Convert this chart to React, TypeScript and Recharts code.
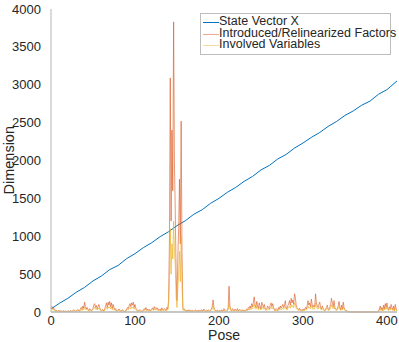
import { LineChart, Line, XAxis, YAxis } from 'recharts';

// pose index is the array index (0..412)
const factorsVals = [
  60, 75, 40, 55, 30, 20, 25, 15, 10, 20,
  15, 10, 20, 5, 10, 15, 8, 12, 10, 5,
  10, 15, 5, 20, 10, 8, 15, 30, 20, 10,
  15, 20, 35, 25, 10, 40, 60, 35, 80, 50,
  130, 70, 40, 60, 30, 20, 45, 25, 15, 30,
  50, 90, 110, 60, 85, 40, 70, 100, 55, 30,
  20, 35, 25, 15, 45, 80, 120, 60, 130, 90,
  140, 70, 120, 50, 100, 60, 30, 45, 20, 15,
  25, 40, 20, 10, 15, 30, 20, 8, 12, 20,
  35, 60, 45, 80, 110, 70, 120, 90, 130, 60,
  100, 50, 40, 20, 15, 25, 30, 20, 10, 15,
  20, 45, 30, 60, 25, 40, 20, 35, 15, 25,
  40, 55, 30, 70, 45, 60, 35, 50, 25, 30,
  40, 20, 55, 30, 25, 45, 30, 20, 60, 40,
  150, 900, 3090, 1200, 2400, 1600, 3830, 1970, 1300, 500,
  150, 700, 1100, 1755, 900, 2520, 800, 60, 30, 40,
  20, 15, 25, 10, 30, 15, 20, 10, 25, 15,
  10, 20, 30, 15, 10, 25, 15, 20, 10, 30,
  20, 15, 40, 25, 10, 20, 15, 30, 20, 10,
  25, 40, 70, 160, 60, 30, 20, 15, 25, 10,
  15, 20, 10, 30, 15, 20, 45, 20, 10, 15,
  25, 60, 340, 80, 30, 20, 45, 25, 15, 40,
  30, 20, 45, 15, 25, 35, 20, 10, 30, 20,
  15, 25, 20, 40, 30, 60, 45, 80, 50, 110,
  70, 130, 200, 90, 60, 140, 80, 50, 120, 70,
  40, 130, 90, 60, 100, 50, 30, 45, 80, 60,
  40, 90, 120, 70, 110, 60, 30, 20, 45, 30,
  20, 60, 40, 80, 50, 70, 100, 60, 90, 150,
  60, 40, 80, 110, 150, 90, 180, 120, 160, 100,
  240, 190, 80, 60, 40, 30, 50, 25, 20, 35,
  20, 40, 30, 60, 40, 80, 150, 90, 120, 70,
  170, 100, 60, 90, 70, 240, 120, 80, 60, 100,
  130, 60, 40, 80, 50, 30, 20, 35, 60, 90,
  40, 30, 60, 100, 180, 120, 70, 150, 60, 40,
  30, 50, 80, 140, 60, 30, 90, 40, 130, 60,
  30, 20, 15, 10, 5, 0, 0, 0, 0, 0,
  0, 0, 0, 0, 0, 0, 0, 0, 0, 0,
  0, 0, 0, 0, 0, 0, 0, 0, 0, 0,
  0, 0, 0, 0, 0, 0, 0, 0, 0, 0,
  10, 40, 80, 30, 60, 20, 90, 40, 110, 60,
  120, 50, 30, 70, 40, 100, 60, 30, 80, 20,
  100, 40, 20,
];

const variablesVals = [
  40, 50, 30, 35, 20, 15, 15, 10, 8, 12,
  10, 8, 12, 5, 8, 10, 5, 8, 6, 5,
  8, 10, 5, 12, 8, 5, 10, 20, 12, 8,
  10, 12, 20, 15, 8, 25, 35, 20, 45, 30,
  60, 40, 25, 35, 20, 12, 25, 15, 10, 20,
  30, 50, 60, 35, 45, 25, 40, 55, 30, 20,
  12, 20, 15, 10, 25, 45, 60, 35, 70, 50,
  70, 40, 65, 30, 55, 35, 20, 25, 12, 10,
  15, 25, 12, 8, 10, 20, 12, 5, 8, 12,
  20, 35, 25, 45, 60, 40, 65, 50, 70, 35,
  55, 30, 25, 12, 10, 15, 20, 12, 8, 10,
  12, 25, 20, 35, 15, 25, 12, 20, 10, 15,
  25, 30, 20, 40, 25, 35, 20, 30, 15, 20,
  25, 12, 30, 20, 15, 25, 20, 12, 35, 25,
  80, 400, 1100, 500, 900, 700, 1200, 800, 600, 200,
  60, 300, 500, 800, 400, 1000, 350, 30, 20, 25,
  12, 10, 15, 8, 20, 10, 12, 8, 15, 10,
  8, 12, 20, 10, 8, 15, 10, 12, 8, 20,
  12, 10, 25, 15, 8, 12, 10, 20, 12, 8,
  15, 25, 40, 80, 35, 20, 12, 10, 15, 8,
  10, 12, 8, 20, 10, 12, 25, 12, 8, 10,
  15, 35, 120, 45, 20, 12, 25, 15, 10, 25,
  20, 12, 25, 10, 15, 20, 12, 8, 20, 12,
  10, 15, 12, 25, 20, 35, 25, 45, 30, 60,
  40, 70, 100, 50, 35, 75, 45, 30, 65, 40,
  25, 70, 50, 35, 55, 30, 20, 25, 45, 35,
  25, 50, 65, 40, 60, 35, 20, 12, 25, 20,
  12, 35, 25, 45, 30, 40, 55, 35, 50, 80,
  35, 25, 45, 60, 80, 50, 95, 65, 85, 55,
  120, 100, 45, 35, 25, 20, 30, 15, 12, 20,
  12, 25, 20, 35, 25, 45, 80, 50, 65, 40,
  90, 55, 35, 50, 40, 120, 65, 45, 35, 55,
  70, 35, 25, 45, 30, 20, 12, 20, 35, 50,
  25, 20, 35, 55, 95, 65, 40, 80, 35, 25,
  20, 30, 45, 75, 35, 20, 50, 25, 70, 35,
  20, 12, 10, 8, 3, 0, 0, 0, 0, 0,
  0, 0, 0, 0, 0, 0, 0, 0, 0, 0,
  0, 0, 0, 0, 0, 0, 0, 0, 0, 0,
  0, 0, 0, 0, 0, 0, 0, 0, 0, 0,
  5, 25, 45, 20, 35, 12, 50, 25, 60, 35,
  65, 30, 20, 40, 25, 55, 35, 20, 45, 12,
  55, 25, 12,
];

const statePoses = [0, 10, 20, 30, 40, 50, 60, 70, 80, 90, 100, 110, 120, 130, 140, 150, 160, 170, 180, 190, 200, 210, 220, 230, 240, 250, 260, 270, 280, 290, 300, 310, 320, 330, 340, 350, 360, 370, 380, 390, 400, 412];
const stateVals = [40, 115, 180, 260, 325, 410, 475, 560, 615, 705, 770, 850, 915, 995, 1060, 1140, 1205, 1290, 1350, 1435, 1500, 1580, 1645, 1725, 1790, 1875, 1935, 2020, 2080, 2165, 2230, 2305, 2370, 2450, 2515, 2595, 2655, 2730, 2785, 2875, 2935, 3050];

const xTicks = [0, 100, 200, 300, 400];
const yTicks = [0, 500, 1000, 1500, 2000, 2500, 3000, 3500, 4000];

const BLUE = '#0072BD';
const RED = '#D95319';
const YELLOW = '#EDB120';
const FONT = '"Liberation Sans", Arial, sans-serif';
const TEXT = '#262626';

const legendItems = [
  { name: 'State Vector X', color: BLUE, opacity: 1 },
  { name: 'Introduced/Relinearized Factors', color: RED, opacity: 0.5 },
  { name: 'Involved Variables', color: YELLOW, opacity: 0.45 },
];

const chartData = factorsVals.map((v, i) => {
  const k = statePoses.indexOf(i);
  return {
    pose: i,
    factors: v,
    variables: variablesVals[i],
    state: k >= 0 ? stateVals[k] : undefined,
  };
});

function LegendBox() {
  return (
    <div
      style={{
        position: 'absolute',
        left: 200,
        top: 13,
        width: 189,
        height: 38,
        border: '1px solid #bdbdbd',
        background: '#fff',
        fontFamily: FONT,
        fontSize: 12.5,
        color: TEXT,
        paddingTop: 2,
        boxSizing: 'content-box',
      }}
    >
      {legendItems.map((it) => (
        <div
          key={it.name}
          style={{ position: 'relative', height: 11.7, lineHeight: '11.7px', whiteSpace: 'nowrap' }}
        >
          <span
            style={{
              position: 'absolute',
              left: 2,
              top: 6,
              width: 16,
              height: 1,
              background: it.color,
              opacity: it.opacity,
            }}
          />
          <span style={{ position: 'absolute', left: 18 }}>{it.name}</span>
        </div>
      ))}
    </div>
  );
}

export default function App() {
  return (
    <div style={{ position: 'absolute', left: 0, top: 0, width: 399, height: 342, background: '#fff' }}>
      <LineChart
        width={399}
        height={342}
        data={chartData}
        margin={{ top: 9, right: 2, left: 0, bottom: 0 }}
      >
        <XAxis
          dataKey="pose"
          type="number"
          domain={[0, 412]}
          ticks={xTicks}
          height={30}
          tickLine={false}
          tickSize={4}
          axisLine={{ stroke: '#b4b4b4', strokeWidth: 1.5 }}
          tick={{ fill: TEXT, fontSize: 13, fontFamily: FONT }}
          tickMargin={0}
        />
        <YAxis
          type="number"
          domain={[0, 4000]}
          ticks={yTicks}
          width={51}
          tickLine={false}
          axisLine={{ stroke: '#b4b4b4' }}
          tick={{ fill: TEXT, fontSize: 13, fontFamily: FONT }}
          tickMargin={4}
          interval={0}
        />
        <Line
          dataKey="state"
          stroke={BLUE}
          strokeWidth={1}
          dot={false}
          connectNulls
          isAnimationActive={false}
        />
        <Line
          dataKey="factors"
          stroke={RED}
          strokeOpacity={0.6}
          strokeWidth={1}
          dot={false}
          isAnimationActive={false}
        />
        <Line
          dataKey="variables"
          stroke={YELLOW}
          strokeOpacity={0.65}
          strokeWidth={1}
          dot={false}
          isAnimationActive={false}
        />
      </LineChart>
      <LegendBox />
      <div
        style={{
          position: 'absolute',
          left: 224,
          top: 335,
          transform: 'translate(-50%, -50%)',
          fontFamily: FONT,
          fontSize: 14,
          lineHeight: 1,
          color: TEXT,
          whiteSpace: 'nowrap',
        }}
      >
        Pose
      </div>
      <div
        style={{
          position: 'absolute',
          left: 2,
          top: 126,
          writingMode: 'vertical-rl',
          transform: 'rotate(180deg)',
          fontFamily: FONT,
          fontSize: 14.5,
          lineHeight: '14px',
          color: TEXT,
          whiteSpace: 'nowrap',
        }}
      >
        Dimension
      </div>
    </div>
  );
}
